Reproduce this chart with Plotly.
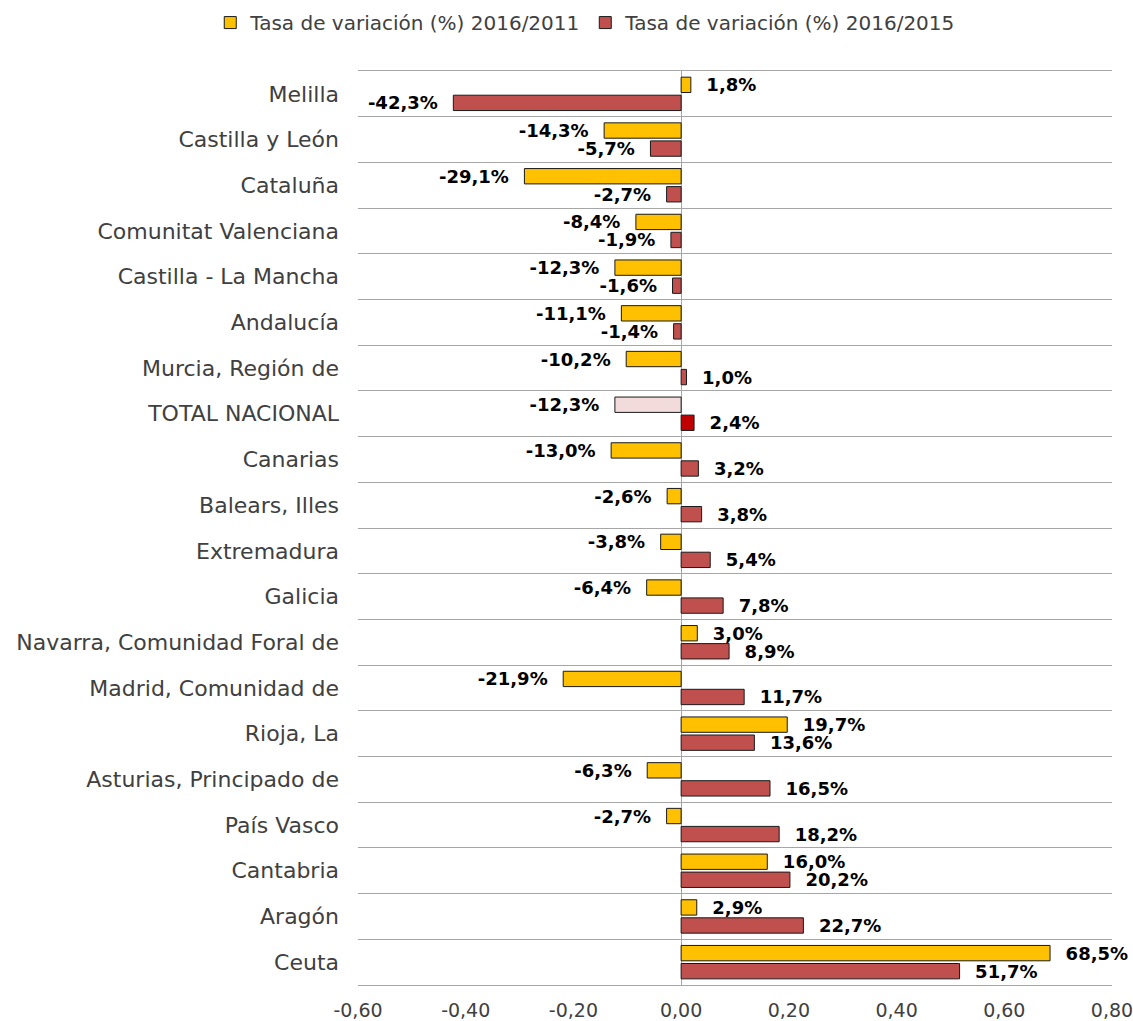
import plotly.graph_objects as go

categories = ["Melilla", "Castilla y León", "Cataluña", "Comunitat Valenciana",
              "Castilla - La Mancha", "Andalucía", "Murcia, Región de", "TOTAL NACIONAL",
              "Canarias", "Balears, Illes", "Extremadura", "Galicia",
              "Navarra, Comunidad Foral de", "Madrid, Comunidad de", "Rioja, La",
              "Asturias, Principado de", "País Vasco", "Cantabria", "Aragón", "Ceuta"]
var_2016_2011 = [1.8, -14.3, -29.1, -8.4, -12.3, -11.1, -10.2, -12.3, -13.0, -2.6,
                 -3.8, -6.4, 3.0, -21.9, 19.7, -6.3, -2.7, 16.0, 2.9, 68.5]
var_2016_2015 = [-42.3, -5.7, -2.7, -1.9, -1.6, -1.4, 1.0, 2.4, 3.2, 3.8,
                 5.4, 7.8, 8.9, 11.7, 13.6, 16.5, 18.2, 20.2, 22.7, 51.7]
series_names = ["Tasa de variación (%) 2016/2011", "Tasa de variación (%) 2016/2015"]
x_ticks = [-0.6, -0.4, -0.2, 0.0, 0.2, 0.4, 0.6, 0.8]
x_ticktext = [f"{v:.2f}".replace(".", ",") for v in x_ticks]

FONT = "DejaVu Sans"
YELLOW, RED = "#FFC000", "#C0504D"
TOTAL_COLORS = ["#F2DCDB", "#C00000"]
NB = "\u00a0"


def fmt(v):
    s = f"{v:.1f}%".replace(".", ",")
    return (s + NB * 2) if v < 0 else (NB * 2 + s)


fig = go.Figure()
for i, (name, vals, base) in enumerate(zip(series_names, [var_2016_2011, var_2016_2015], [YELLOW, RED])):
    colors = [TOTAL_COLORS[i] if c == "TOTAL NACIONAL" else base for c in categories]
    fig.add_trace(go.Bar(
        y=categories, x=[v / 100 for v in vals], orientation="h", name=name,
        marker=dict(color=colors, line=dict(color="#1a1a1a", width=1)),
        text=[fmt(v) for v in vals], textposition="outside", cliponaxis=False,
        constraintext="none",
        textfont=dict(family=FONT, size=18, color="black", weight="bold"),
    ))

fig.update_layout(
    width=1133, height=1021,
    margin=dict(l=358, r=21, t=71, b=36),
    plot_bgcolor="white", paper_bgcolor="white",
    barmode="group", bargap=0.21, bargroupgap=0.15,
    font=dict(family=FONT, color="#404040"),
    legend=dict(orientation="h", xref="container", x=0.517, xanchor="center",
                yref="container", y=0.997, yanchor="top",
                font=dict(size=20, color="#404040"), itemwidth=30,
                traceorder="normal"),
    xaxis=dict(range=[-0.6, 0.8], tickvals=x_ticks, ticktext=x_ticktext,
               showgrid=False, zeroline=True, zerolinecolor="#A6A6A6", zerolinewidth=1,
               showline=True, mirror=True, linecolor="#A6A6A6", linewidth=1,
               tickfont=dict(size=19, color="#404040"), ticks="",
               ticklabeloverflow="allow", ticklabelstandoff=8, automargin=False),
    yaxis=dict(autorange="reversed", tickson="boundaries", showgrid=True,
               gridcolor="#A6A6A6", gridwidth=1, ticks="", ticklabelstandoff=18,
               tickfont=dict(size=22, color="#404040"), automargin=False),
)
fig.write_html("out.html", config={"displayModeBar": False},
               post_script="document.body.style.margin='0px';")
